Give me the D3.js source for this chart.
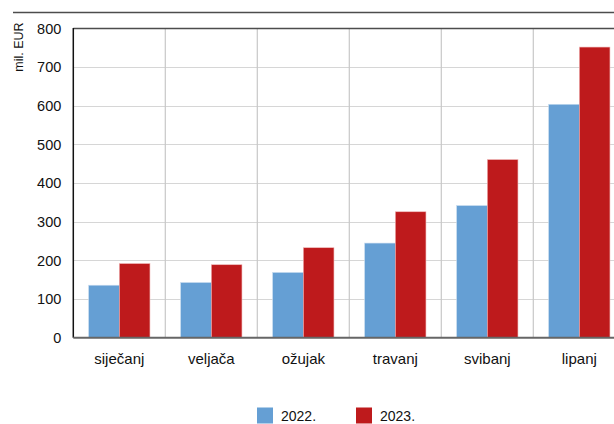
<!DOCTYPE html>
<html><head><meta charset="utf-8">
<script src="https://cdn.jsdelivr.net/npm/d3@7"></script>
<style>
html,body{margin:0;padding:0;background:#fff;}
svg{display:block;}
text{font-family:"Liberation Sans Narrow","Arial Narrow","Liberation Sans",Arial,sans-serif;fill:#111;}
</style></head>
<body>
<svg id="chart" width="614" height="424"></svg>
<script>
const categories = ["siječanj","veljača","ožujak","travanj","svibanj","lipanj"];
const seriesNames = ["2022.","2023."];
const values2022 = [136, 143, 169, 245, 342, 604];
const values2023 = [192, 189, 233, 326, 461, 752];
const yTicks = [0,100,200,300,400,500,600,700,800];
const colors = ["#659fd4","#be1a1c"];

const svg = d3.select("#chart");
const plotLeft = 73.3, plotBottom = 337.8, plotTop = 28.5, catW = 92;
const x0 = d3.scaleBand().domain(categories).range([plotLeft, plotLeft + catW*categories.length]).padding(0);
const x1 = d3.scaleBand().domain(seriesNames).range([x0.bandwidth()/6, x0.bandwidth()*5/6]).padding(0);
const y = d3.scaleLinear().domain([0,800]).range([plotBottom, plotTop]);

// top rule
svg.append("line").attr("x1",13).attr("x2",614).attr("y1",12.5).attr("y2",12.5)
  .attr("stroke","#4d4d4d").attr("stroke-width",1.3);

// horizontal grid
svg.append("g").selectAll("line").data(yTicks.filter(d=>d>0 && d<800)).join("line")
  .attr("x1",plotLeft).attr("x2",614).attr("y1",d=>Math.round(y(d))+0.5).attr("y2",d=>Math.round(y(d))+0.5)
  .attr("stroke","#d6d6d6").attr("stroke-width",1.2);
// vertical grid
svg.append("g").selectAll("line").data(categories.slice(1)).join("line")
  .attr("x1",d=>x0(d)).attr("x2",d=>x0(d)).attr("y1",plotTop).attr("y2",plotBottom)
  .attr("stroke","#c8c8c8").attr("stroke-width",1.2);

// bars
const data = categories.map((c,i)=>({c, vals:[values2022[i], values2023[i]]}));
const g = svg.append("g").selectAll("g").data(data).join("g")
  .attr("transform",d=>`translate(${x0(d.c)},0)`);
g.selectAll("rect").data(d=>d.vals.map((v,j)=>({s:seriesNames[j], v, j}))).join("rect")
  .attr("x",d=>x1(d.s)).attr("width",x1.bandwidth())
  .attr("y",d=>y(d.v)).attr("height",d=>plotBottom-y(d.v))
  .attr("fill",d=>colors[d.j])
  .attr("stroke",d=>d.j===0?"#c9dcef":"#f0b8b8").attr("stroke-width",0.6);

// plot top border
svg.append("line").attr("x1",plotLeft).attr("x2",614).attr("y1",plotTop).attr("y2",plotTop)
  .attr("stroke","#4d4d4d").attr("stroke-width",1.3);
// left axis
svg.append("line").attr("x1",plotLeft).attr("x2",plotLeft).attr("y1",plotTop-0.6).attr("y2",plotBottom)
  .attr("stroke","#111").attr("stroke-width",1.5);
// baseline
svg.append("line").attr("x1",plotLeft).attr("x2",614).attr("y1",plotBottom).attr("y2",plotBottom)
  .attr("stroke","#666").attr("stroke-width",2);

// y axis labels
const yAxis = d3.axisLeft(y).tickValues(yTicks).tickSize(0).tickPadding(12);
const ya = svg.append("g").attr("transform",`translate(${plotLeft},0)`).call(yAxis);
ya.select(".domain").remove();
ya.selectAll("text").attr("font-size",14.5).attr("font-family",null).attr("fill","#111");

// x axis labels
const xAxis = d3.axisBottom(x0).tickSize(0).tickPadding(16);
const xa = svg.append("g").attr("transform",`translate(0,${plotBottom})`).call(xAxis);
xa.select(".domain").remove();
xa.selectAll("text").attr("font-size",15).attr("font-family",null).attr("fill","#111");

// y title
svg.append("text").attr("transform","translate(23,47) rotate(-90)")
  .attr("text-anchor","middle").attr("font-size",12.5).text("mil. EUR");

// legend
const legX = [257, 356];
seriesNames.forEach((s,i)=>{
  svg.append("rect").attr("x",legX[i]).attr("y",407.5).attr("width",16).attr("height",16).attr("fill",colors[i]);
  svg.append("text").attr("x",legX[i]+24).attr("y",416).attr("dy","0.35em")
    .attr("font-size",14).text(s);
});
</script>
</body></html>
